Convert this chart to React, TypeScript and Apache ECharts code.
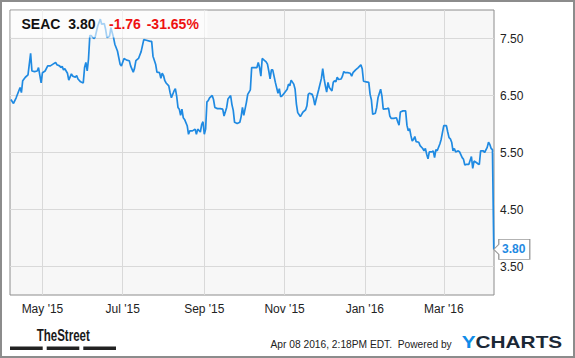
import React, { useEffect, useRef } from 'react';
import * as echarts from 'echarts';

const dates: string[] = [
  '2015-04-07','2015-04-09','2015-04-11','2015-04-14','2015-04-15','2015-04-16','2015-04-18','2015-04-20','2015-04-22','2015-04-23',
  '2015-04-25','2015-04-27','2015-04-28','2015-04-30','2015-05-01','2015-05-03','2015-05-05','2015-05-07','2015-05-09','2015-05-11',
  '2015-05-12','2015-05-14','2015-05-15','2015-05-16','2015-05-17','2015-05-18','2015-05-20','2015-05-21','2015-05-23','2015-05-24',
  '2015-05-26','2015-05-27','2015-05-28','2015-05-30','2015-06-01','2015-06-02','2015-06-03','2015-06-04','2015-06-05','2015-06-06',
  '2015-06-07','2015-06-09','2015-06-10','2015-06-12','2015-06-14','2015-06-15','2015-06-17','2015-06-18','2015-06-19','2015-06-21',
  '2015-06-22','2015-06-24','2015-06-25','2015-06-27','2015-06-29','2015-06-30','2015-07-02','2015-07-04','2015-07-06','2015-07-07',
  '2015-07-09','2015-07-10','2015-07-11','2015-07-13','2015-07-15','2015-07-17','2015-07-19','2015-07-22','2015-07-23','2015-07-24',
  '2015-07-26','2015-07-27','2015-07-29','2015-07-30','2015-07-31','2015-08-01','2015-08-02','2015-08-03','2015-08-05','2015-08-06',
  '2015-08-07','2015-08-09','2015-08-10','2015-08-11','2015-08-12','2015-08-13','2015-08-14','2015-08-15','2015-08-16','2015-08-17',
  '2015-08-19','2015-08-20','2015-08-21','2015-08-23','2015-08-25','2015-08-26','2015-08-27','2015-08-29','2015-08-30','2015-08-31',
  '2015-09-01','2015-09-02','2015-09-03','2015-09-04','2015-09-05','2015-09-07','2015-09-08','2015-09-09','2015-09-11','2015-09-13',
  '2015-09-15','2015-09-16','2015-09-18','2015-09-19','2015-09-21','2015-09-22','2015-09-23','2015-09-24','2015-09-26','2015-09-28',
  '2015-09-29','2015-09-30','2015-10-01','2015-10-03','2015-10-04','2015-10-06','2015-10-07','2015-10-09','2015-10-11','2015-10-12',
  '2015-10-13','2015-10-14','2015-10-15','2015-10-16','2015-10-18','2015-10-19','2015-10-20','2015-10-21','2015-10-22','2015-10-23',
  '2015-10-24','2015-10-25','2015-10-27','2015-10-28','2015-10-29','2015-10-30','2015-11-01','2015-11-03','2015-11-04','2015-11-05',
  '2015-11-06','2015-11-08','2015-11-09','2015-11-10','2015-11-11','2015-11-13','2015-11-14','2015-11-15','2015-11-17','2015-11-18',
  '2015-11-19','2015-11-20','2015-11-22','2015-11-23','2015-11-24','2015-11-25','2015-11-27','2015-11-29','2015-11-30','2015-12-01',
  '2015-12-02','2015-12-03','2015-12-04','2015-12-05','2015-12-07','2015-12-08','2015-12-09','2015-12-10','2015-12-11','2015-12-12',
  '2015-12-14','2015-12-15','2015-12-16','2015-12-17','2015-12-19','2015-12-21','2015-12-22','2015-12-23','2015-12-25','2015-12-27',
  '2015-12-29','2015-12-30','2015-12-31','2016-01-02','2016-01-04','2016-01-05','2016-01-06','2016-01-07','2016-01-09','2016-01-10',
  '2016-01-11','2016-01-13','2016-01-14','2016-01-15','2016-01-18','2016-01-19','2016-01-20','2016-01-21','2016-01-23','2016-01-25',
  '2016-01-26','2016-01-27','2016-01-28','2016-01-30','2016-02-01','2016-02-02','2016-02-03','2016-02-04','2016-02-05','2016-02-06',
  '2016-02-07','2016-02-08','2016-02-09','2016-02-11','2016-02-12','2016-02-14','2016-02-15','2016-02-16','2016-02-17','2016-02-18',
  '2016-02-19','2016-02-21','2016-02-22','2016-02-23','2016-02-24','2016-02-25','2016-02-27','2016-02-28','2016-03-01','2016-03-03',
  '2016-03-04','2016-03-05','2016-03-06','2016-03-07','2016-03-08','2016-03-09','2016-03-10','2016-03-12','2016-03-13','2016-03-15',
  '2016-03-16','2016-03-17','2016-03-18','2016-03-20','2016-03-22','2016-03-23','2016-03-24','2016-03-26','2016-03-27','2016-03-28',
  '2016-03-29','2016-03-31','2016-04-01','2016-04-03','2016-04-04','2016-04-05','2016-04-06','2016-04-07','2016-04-08',
];

const prices: number[] = [
  6.43,6.36,6.46,6.64,6.55,6.76,6.82,6.86,7.24,6.93,
  6.92,6.93,6.99,6.72,6.90,6.93,7.02,7.02,7.05,7.08,
  7.04,7.02,6.99,7.01,6.95,6.97,6.89,6.77,6.88,6.84,
  6.82,6.85,6.79,6.74,6.72,6.99,7.08,6.93,7.14,7.55,
  7.55,7.50,7.52,7.72,7.84,7.75,7.76,7.66,7.52,7.54,
  7.69,7.52,7.40,7.28,7.05,7.02,7.15,7.12,7.11,7.02,
  6.91,6.98,7.11,7.15,7.27,7.48,7.47,7.45,7.45,7.19,
  7.05,6.91,6.90,6.80,6.89,6.85,6.76,6.72,6.67,6.55,
  6.46,6.58,6.62,6.49,6.29,6.26,6.15,6.26,6.11,6.08,
  5.97,5.82,5.88,5.88,5.91,5.82,5.91,5.86,5.99,6.04,
  5.82,5.91,6.39,6.41,6.46,6.50,6.43,6.29,6.27,6.27,
  6.26,6.14,6.29,6.44,6.50,6.34,6.24,6.03,6.01,6.03,
  6.13,6.29,6.15,6.38,6.52,6.60,6.99,6.99,6.99,7.08,
  6.99,6.84,7.15,7.13,7.09,7.05,6.93,6.79,6.95,6.95,
  6.84,6.73,6.54,6.62,6.48,6.49,6.55,6.61,6.70,6.67,
  6.77,6.70,6.61,6.35,6.20,6.13,6.17,6.21,6.25,6.32,
  6.52,6.54,6.52,6.45,6.33,6.43,6.61,6.80,6.97,6.80,
  6.67,6.56,6.73,6.64,6.58,6.73,6.76,6.74,6.82,6.78,
  6.79,6.84,6.92,6.90,6.90,6.89,6.84,6.90,6.95,6.99,
  7.04,6.97,6.75,6.74,6.73,6.52,6.42,6.17,6.19,6.29,
  6.46,6.61,6.49,6.26,6.27,6.28,6.14,6.10,6.10,6.11,
  6.04,5.98,6.21,6.23,6.23,5.98,5.88,5.92,5.80,5.70,
  5.73,5.78,5.69,5.68,5.62,5.57,5.53,5.57,5.47,5.39,
  5.51,5.51,5.53,5.41,5.55,5.53,5.65,5.73,5.97,5.97,
  5.86,5.76,5.74,5.68,5.53,5.57,5.51,5.53,5.51,5.41,
  5.38,5.28,5.29,5.29,5.43,5.22,5.35,5.32,5.30,5.29,
  5.53,5.53,5.50,5.59,5.68,5.64,5.57,5.55,3.80,
];

const xTickDates: string[] = ['2015-05-01', '2015-07-01', '2015-09-01', '2015-11-01', '2016-01-01', '2016-03-01'];
const yTicks: number[] = [3.5, 4.5, 5.5, 6.5, 7.5];
const ticker = 'SEAC';
const lastPrice = 3.8;
const change = -1.76;
const changePct = -31.65;
const timestampText = 'Apr 08 2016, 2:18PM EDT.  Powered by';
const MONTHS = ['Jan', 'Feb', 'Mar', 'Apr', 'May', 'Jun', 'Jul', 'Aug', 'Sep', 'Oct', 'Nov', 'Dec'];

const ts = (s: string) => {
  const [y, m, d] = s.split('-').map(Number);
  return new Date(y, m - 1, d).getTime();
};

export default function App() {
  const ref = useRef<HTMLDivElement>(null);
  useEffect(() => {
    const chart = echarts.init(ref.current!, null, { renderer: 'svg' });
    const font = 'Liberation Sans, Arial, sans-serif';
    const seriesData = dates.map((d, i) => [ts(d), prices[i]]);
    const xMin = ts('2015-04-06') + 8 * 3600 * 1000;
    const xMax = ts('2016-04-08') + 4 * 3600 * 1000;
    const xTicks = xTickDates.map(ts);
    chart.setOption({
      animation: false,
      backgroundColor: '#ffffff',
      grid: {
        left: 10, top: 10, right: 81, bottom: 63,
        show: true, backgroundColor: '#f7f7f7', borderColor: '#8c8c8c', borderWidth: 1,
      },
      xAxis: {
        type: 'value', min: xMin, max: xMax, scale: true,
        axisLine: { show: false },
        axisTick: { show: false, customValues: xTicks },
        axisLabel: {
          customValues: xTicks,
          margin: 8,
          color: '#222', fontSize: 12, fontFamily: font,
          formatter: (v: number) => {
            const d = new Date(v);
            return MONTHS[d.getMonth()] + " '" + String(d.getFullYear()).slice(2);
          },
        },
        splitLine: { show: true, lineStyle: { color: '#d9d9d9', width: 1 } },
      },
      yAxis: {
        type: 'value', position: 'right', min: 3, max: 8,
        axisLine: { show: false },
        axisTick: { show: false, customValues: yTicks },
        axisLabel: {
          customValues: yTicks,
          margin: 6,
          color: '#222', fontSize: 12, fontFamily: font,
          formatter: (v: number) => v.toFixed(2),
        },
        splitLine: { show: true, lineStyle: { color: '#d9d9d9', width: 1 } },
      },
      series: [
        {
          type: 'line',
          data: seriesData,
          showSymbol: false,
          symbol: 'none',
          lineStyle: { color: '#1f8ae2', width: 1.7 },
          z: 3,
          markPoint: {
            silent: true,
            symbol: 'path://M0,10L5,5L5,0L36,0L36,20L5,20L5,15Z',
            symbolSize: [36, 20],
            symbolOffset: [18, 0],
            itemStyle: { color: '#ffffff', borderColor: '#9a9a9a', borderWidth: 1 },
            label: {
              show: true,
              position: 'inside',
              offset: [2, 0],
              formatter: () => lastPrice.toFixed(2),
              color: '#1f8ae2', fontWeight: 'bold', fontSize: 12, fontFamily: font,
            },
            data: [{ coord: [ts(dates[dates.length - 1]), prices[prices.length - 1]] }],
          },
        },
      ],
      graphic: [
        {
          type: 'rect', z: 100, silent: true,
          shape: { x: 10.5, y: 10.5, width: 197, height: 27 },
          style: { fill: 'rgba(255,255,255,0.6)' },
        },
        {
          type: 'text', z: 101, x: 21.5, y: 23.5, silent: true,
          style: { text: ticker, fill: '#111', font: 'bold 14px ' + font, verticalAlign: 'middle' },
        },
        {
          type: 'text', z: 101, x: 68.3, y: 23.5, silent: true,
          style: { text: lastPrice.toFixed(2), fill: '#111', font: 'bold 14px ' + font, verticalAlign: 'middle' },
        },
        {
          type: 'text', z: 101, x: 109, y: 23.5, silent: true,
          style: { text: change.toFixed(2), fill: '#ee1111', font: 'bold 14px ' + font, verticalAlign: 'middle' },
        },
        {
          type: 'text', z: 101, x: 146.7, y: 23.5, silent: true,
          style: { text: changePct.toFixed(2) + '%', fill: '#ee1111', font: 'bold 14px ' + font, verticalAlign: 'middle' },
        },
        {
          type: 'text', z: 101, x: 36.7, y: 335.5, scaleX: 0.72, silent: true,
          style: { text: 'TheStreet', fill: '#1a1a1a', font: 'bold 16px ' + font, verticalAlign: 'middle' },
        },
        { type: 'rect', z: 101, silent: true, shape: { x: 10, y: 346.5, width: 32.7, height: 3.5 }, style: { fill: '#222' } },
        { type: 'rect', z: 101, silent: true, shape: { x: 46.7, y: 346.5, width: 32.6, height: 3.5 }, style: { fill: '#222' } },
        { type: 'rect', z: 101, silent: true, shape: { x: 83.3, y: 346.5, width: 32.7, height: 3.5 }, style: { fill: '#222' } },
        {
          type: 'text', z: 101, x: 451.7, y: 344, scaleX: 0.93, silent: true,
          style: { text: timestampText, fill: '#222', font: '11px ' + font, align: 'right', verticalAlign: 'middle' },
        },
        {
          type: 'text', z: 101, x: 461.7, y: 342, scaleX: 1.3, silent: true,
          style: {
            text: '{y|Y}{c|CHARTS}', verticalAlign: 'middle',
            rich: {
              y: { fill: '#0f8ce8', font: 'bold 16px ' + font },
              c: { fill: '#1b2836', font: 'bold 16px ' + font },
            },
          },
        },
        {
          type: 'rect', z: 102, silent: true,
          shape: { x: 1, y: 1, width: 573, height: 356 },
          style: { fill: 'none', stroke: '#8c8c8c', lineWidth: 2 },
        },
      ],
    });
    return () => chart.dispose();
  }, []);
  return (
    <div
      ref={ref}
      style={{ position: 'fixed', left: 0, top: 0, width: 575, height: 358, background: '#fff' }}
    />
  );
}
